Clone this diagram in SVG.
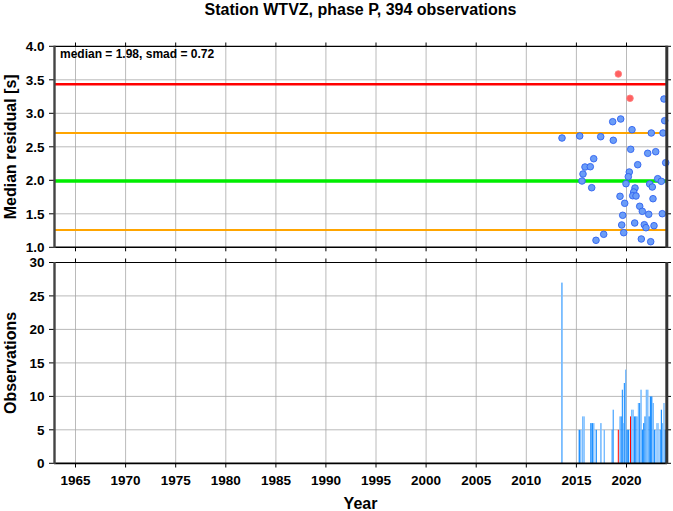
<svg xmlns="http://www.w3.org/2000/svg" width="673" height="511" viewBox="0 0 673 511">
<style>
text{font-family:"Liberation Sans",Arial,sans-serif;font-weight:bold;fill:#000}
.tl{font-size:13.5px}
.yl{text-anchor:end}
.xl{text-anchor:middle}
.ttl{font-size:16px}
.grid{stroke:#a8a8a8;stroke-width:0.8;fill:none}
.tick{stroke:#000;stroke-width:1;fill:none}
.pt{fill:#6b9df7;stroke:#2f62f0;stroke-width:0.9}
.rp{fill:#ff6060;stroke:#ff8080;stroke-width:0.9}
.L{fill:#78bcff}
.D{fill:#1e90ff}
.R{fill:#ff0000}
</style>
<rect width="673" height="511" fill="#fff"/>
<text class="ttl" x="360.5" y="15" text-anchor="middle">Station WTVZ, phase P, 394 observations</text>

<g id="top-panel">
<g class="grid">
<path d="M75.5 46.3V247.3M125.6 46.3V247.3M175.7 46.3V247.3M225.8 46.3V247.3M275.9 46.3V247.3M325.9 46.3V247.3M376 46.3V247.3M426.1 46.3V247.3M476.2 46.3V247.3M526.3 46.3V247.3M576.4 46.3V247.3M626.5 46.3V247.3"/>
<path d="M54 79.8H667M54 113.3H667M54 146.8H667M54 180.3H667M54 213.8H667"/>
</g>
<line x1="54" y1="84.3" x2="667" y2="84.3" stroke="#ff0000" stroke-width="2.5"/>
<line x1="54" y1="133" x2="667" y2="133" stroke="#ffa500" stroke-width="2.2"/>
<line x1="54" y1="181" x2="667" y2="181" stroke="#00ee00" stroke-width="3.5"/>
<line x1="54" y1="230" x2="667" y2="230" stroke="#ffa500" stroke-width="2.2"/>
<g id="points">
<circle class="rp" cx="618.3" cy="74" r="3.3"/>
<circle class="rp" cx="630" cy="98.3" r="3.3"/>
<circle class="pt" cx="664" cy="99" r="3.3"/>
<circle class="pt" cx="612.7" cy="121.7" r="3.3"/>
<circle class="pt" cx="620.7" cy="119" r="3.3"/>
<circle class="pt" cx="664.7" cy="120.7" r="3.3"/>
<circle class="pt" cx="632" cy="129.7" r="3.3"/>
<circle class="pt" cx="651.3" cy="133" r="3.3"/>
<circle class="pt" cx="663" cy="133" r="3.3"/>
<circle class="pt" cx="562" cy="138" r="3.3"/>
<circle class="pt" cx="579.7" cy="136" r="3.3"/>
<circle class="pt" cx="600.7" cy="136.7" r="3.3"/>
<circle class="pt" cx="613.3" cy="140.3" r="3.3"/>
<circle class="pt" cx="630.7" cy="149.3" r="3.3"/>
<circle class="pt" cx="647.7" cy="153.3" r="3.3"/>
<circle class="pt" cx="655.7" cy="151.7" r="3.3"/>
<circle class="pt" cx="593.7" cy="158.7" r="3.3"/>
<circle class="pt" cx="585" cy="167" r="3.3"/>
<circle class="pt" cx="590.3" cy="166.7" r="3.3"/>
<circle class="pt" cx="637.7" cy="164.7" r="3.3"/>
<circle class="pt" cx="665.7" cy="162.7" r="3.3"/>
<circle class="pt" cx="583" cy="174" r="3.3"/>
<circle class="pt" cx="629.3" cy="172" r="3.3"/>
<circle class="pt" cx="628.3" cy="176.7" r="3.3"/>
<circle class="pt" cx="582" cy="181" r="3.3"/>
<circle class="pt" cx="657.7" cy="178.7" r="3.3"/>
<circle class="pt" cx="661.3" cy="181.3" r="3.3"/>
<circle class="pt" cx="626" cy="183.7" r="3.3"/>
<circle class="pt" cx="649.7" cy="184" r="3.3"/>
<circle class="pt" cx="652.3" cy="187" r="3.3"/>
<circle class="pt" cx="591.7" cy="187.7" r="3.3"/>
<circle class="pt" cx="635" cy="188" r="3.3"/>
<circle class="pt" cx="633.7" cy="192" r="3.3"/>
<circle class="pt" cx="632.7" cy="195.7" r="3.3"/>
<circle class="pt" cx="636" cy="196" r="3.3"/>
<circle class="pt" cx="620" cy="196.3" r="3.3"/>
<circle class="pt" cx="653" cy="198.7" r="3.3"/>
<circle class="pt" cx="624.7" cy="203.3" r="3.3"/>
<circle class="pt" cx="639.7" cy="206.3" r="3.3"/>
<circle class="pt" cx="642.3" cy="211.3" r="3.3"/>
<circle class="pt" cx="648.7" cy="214.3" r="3.3"/>
<circle class="pt" cx="662.3" cy="213.7" r="3.3"/>
<circle class="pt" cx="622.7" cy="215.3" r="3.3"/>
<circle class="pt" cx="634.7" cy="223" r="3.3"/>
<circle class="pt" cx="644.3" cy="224.7" r="3.3"/>
<circle class="pt" cx="646" cy="227.7" r="3.3"/>
<circle class="pt" cx="654" cy="225.7" r="3.3"/>
<circle class="pt" cx="621.7" cy="225" r="3.3"/>
<circle class="pt" cx="623.7" cy="232.7" r="3.3"/>
<circle class="pt" cx="603.7" cy="234.3" r="3.3"/>
<circle class="pt" cx="596" cy="240.3" r="3.3"/>
<circle class="pt" cx="641.3" cy="239" r="3.3"/>
<circle class="pt" cx="650.7" cy="241.7" r="3.3"/>
</g>
<g class="tick">
<path d="M75.5 46.3V42.5M125.6 46.3V42.5M175.7 46.3V42.5M225.8 46.3V42.5M275.9 46.3V42.5M325.9 46.3V42.5M376 46.3V42.5M426.1 46.3V42.5M476.2 46.3V42.5M526.3 46.3V42.5M576.4 46.3V42.5M626.5 46.3V42.5"/>
<path d="M75.5 247.3V251.3M125.6 247.3V251.3M175.7 247.3V251.3M225.8 247.3V251.3M275.9 247.3V251.3M325.9 247.3V251.3M376 247.3V251.3M426.1 247.3V251.3M476.2 247.3V251.3M526.3 247.3V251.3M576.4 247.3V251.3M626.5 247.3V251.3"/>
<path d="M49 46.3H54M49 79.8H54M49 113.3H54M49 146.8H54M49 180.3H54M49 213.8H54M49 247.3H54"/>
<path d="M667 46.3H671M667 79.8H671M667 113.3H671M667 146.8H671M667 180.3H671M667 213.8H671M667 247.3H671"/>
</g>
<line x1="54" y1="46.3" x2="667" y2="46.3" stroke="#000" stroke-width="1.2"/>
<line x1="54" y1="247.3" x2="667" y2="247.3" stroke="#000" stroke-width="1.6"/>
<line x1="54.5" y1="45.7" x2="54.5" y2="248" stroke="#444" stroke-width="2.4"/>
<line x1="666.8" y1="45.7" x2="666.8" y2="248" stroke="#333" stroke-width="3"/>
<text x="60" y="58" style="font-size:12px">median = 1.98, smad = 0.72</text>
<g class="tl yl">
<text x="44.5" y="51">4.0</text>
<text x="44.5" y="84.5">3.5</text>
<text x="44.5" y="118">3.0</text>
<text x="44.5" y="151.5">2.5</text>
<text x="44.5" y="185">2.0</text>
<text x="44.5" y="218.5">1.5</text>
<text x="44.5" y="252">1.0</text>
</g>
<text class="ttl" transform="translate(15.5,146.8) rotate(-90)" text-anchor="middle">Median residual [s]</text>
</g>

<g id="bottom-panel">
<g class="grid">
<path d="M75.5 262.5V463.3M125.6 262.5V463.3M175.7 262.5V463.3M225.8 262.5V463.3M275.9 262.5V463.3M325.9 262.5V463.3M376 262.5V463.3M426.1 262.5V463.3M476.2 262.5V463.3M526.3 262.5V463.3M576.4 262.5V463.3M626.5 262.5V463.3"/>
<path d="M54 295.9H667M54 329.4H667M54 362.9H667M54 396.4H667M54 429.8H667"/>
</g>
<g id="bars">
<rect class="L" x="561" y="282.6" width="1.8" height="180.7"/>
<rect class="D" x="578.6" y="429.8" width="1.4" height="33.5"/>
<rect class="L" x="580.1" y="429.8" width="1.4" height="33.5"/>
<rect class="L" x="582" y="416.4" width="1.4" height="46.9"/>
<rect class="L" x="583.4" y="416.4" width="1.4" height="46.9"/>
<rect class="D" x="590.2" y="423.1" width="1.4" height="40.2"/>
<rect class="D" x="591.7" y="423.1" width="1.3" height="40.2"/>
<rect class="L" x="593.1" y="423.1" width="1.4" height="40.2"/>
<rect class="D" x="595.6" y="429.8" width="1.3" height="33.5"/>
<rect class="L" x="600.1" y="423.1" width="1.6" height="40.2"/>
<rect class="L" x="603.6" y="429.8" width="1.4" height="33.5"/>
<rect class="D" x="611.6" y="429.8" width="1" height="33.5"/>
<rect class="D" x="612.7" y="409.7" width="1" height="53.6"/>
<rect class="R" x="617.8" y="429.8" width="1" height="33.5"/>
<rect class="L" x="619.3" y="416.4" width="1.3" height="46.9"/>
<rect class="D" x="620.6" y="416.4" width="1.2" height="46.9"/>
<rect class="D" x="621.8" y="389.7" width="1.1" height="73.6"/>
<rect class="L" x="622.9" y="423.1" width="0.9" height="40.2"/>
<rect class="D" x="623.8" y="383" width="1.1" height="80.3"/>
<rect class="L" x="625" y="369.6" width="1.4" height="93.7"/>
<rect class="D" x="626.4" y="429.8" width="1.4" height="33.5"/>
<rect class="D" x="627.8" y="429.8" width="1.4" height="33.5"/>
<rect class="R" x="630" y="416.4" width="1" height="46.9"/>
<rect class="L" x="631" y="409.7" width="1.4" height="53.6"/>
<rect class="L" x="632.4" y="409.7" width="1.4" height="53.6"/>
<rect class="D" x="633.8" y="416.4" width="1.4" height="46.9"/>
<rect class="D" x="635.2" y="416.4" width="1.4" height="46.9"/>
<rect class="L" x="636.6" y="416.4" width="1.2" height="46.9"/>
<rect class="L" x="637.8" y="403" width="1.3" height="60.3"/>
<rect class="D" x="639.1" y="403" width="1.2" height="60.3"/>
<rect class="L" x="640.3" y="389.7" width="1.5" height="73.6"/>
<rect class="D" x="641.8" y="429.8" width="1.3" height="33.5"/>
<rect class="D" x="643.1" y="423.1" width="1.3" height="40.2"/>
<rect class="D" x="644.4" y="416.4" width="1.3" height="46.9"/>
<rect class="L" x="645.7" y="389.7" width="1.4" height="73.6"/>
<rect class="L" x="647.1" y="389.7" width="1.4" height="73.6"/>
<rect class="D" x="648.5" y="416.4" width="1.3" height="46.9"/>
<rect class="D" x="649.8" y="396.4" width="1.3" height="66.9"/>
<rect class="D" x="651.1" y="396.4" width="1.3" height="66.9"/>
<rect class="L" x="652.4" y="403" width="1.6" height="60.3"/>
<rect class="D" x="654" y="429.8" width="1.4" height="33.5"/>
<rect class="L" x="656.3" y="423.1" width="1.2" height="40.2"/>
<rect class="L" x="657.5" y="423.1" width="1.2" height="40.2"/>
<rect class="D" x="659.6" y="429.8" width="1.2" height="33.5"/>
<rect class="D" x="660.8" y="409.7" width="1.2" height="53.6"/>
<rect class="L" x="662" y="423.1" width="1.2" height="40.2"/>
<rect class="L" x="663.3" y="403" width="1.4" height="60.3"/>
<rect class="D" x="664.7" y="429.8" width="1.2" height="33.5"/>
</g>
<g class="tick">
<path d="M75.5 262.5V258.5M125.6 262.5V258.5M175.7 262.5V258.5M225.8 262.5V258.5M275.9 262.5V258.5M325.9 262.5V258.5M376 262.5V258.5M426.1 262.5V258.5M476.2 262.5V258.5M526.3 262.5V258.5M576.4 262.5V258.5M626.5 262.5V258.5"/>
<path d="M75.5 463.3V467.5M125.6 463.3V467.5M175.7 463.3V467.5M225.8 463.3V467.5M275.9 463.3V467.5M325.9 463.3V467.5M376 463.3V467.5M426.1 463.3V467.5M476.2 463.3V467.5M526.3 463.3V467.5M576.4 463.3V467.5M626.5 463.3V467.5"/>
<path d="M49 262.5H54M49 295.9H54M49 329.4H54M49 362.9H54M49 396.4H54M49 429.8H54M49 463.3H54"/>
<path d="M667 262.5H671M667 295.9H671M667 329.4H671M667 362.9H671M667 396.4H671M667 429.8H671M667 463.3H671"/>
</g>
<line x1="54" y1="262.5" x2="667" y2="262.5" stroke="#000" stroke-width="1.2"/>
<line x1="54" y1="463.3" x2="667" y2="463.3" stroke="#000" stroke-width="1.8"/>
<line x1="54.5" y1="262" x2="54.5" y2="464" stroke="#444" stroke-width="2.4"/>
<line x1="666.8" y1="262" x2="666.8" y2="464" stroke="#333" stroke-width="3"/>
<g class="tl yl">
<text x="44.5" y="267.3">30</text>
<text x="44.5" y="300.7">25</text>
<text x="44.5" y="334.2">20</text>
<text x="44.5" y="367.7">15</text>
<text x="44.5" y="401.2">10</text>
<text x="44.5" y="434.6">5</text>
<text x="44.5" y="468.1">0</text>
</g>
<g class="tl xl">
<text x="75.5" y="485">1965</text>
<text x="125.6" y="485">1970</text>
<text x="175.7" y="485">1975</text>
<text x="225.8" y="485">1980</text>
<text x="275.9" y="485">1985</text>
<text x="325.9" y="485">1990</text>
<text x="376" y="485">1995</text>
<text x="426.1" y="485">2000</text>
<text x="476.2" y="485">2005</text>
<text x="526.3" y="485">2010</text>
<text x="576.4" y="485">2015</text>
<text x="626.5" y="485">2020</text>
</g>
<text class="ttl" transform="translate(15.5,362.9) rotate(-90)" text-anchor="middle">Observations</text>
<text class="ttl" x="360.5" y="509" text-anchor="middle">Year</text>
</g>
</svg>
